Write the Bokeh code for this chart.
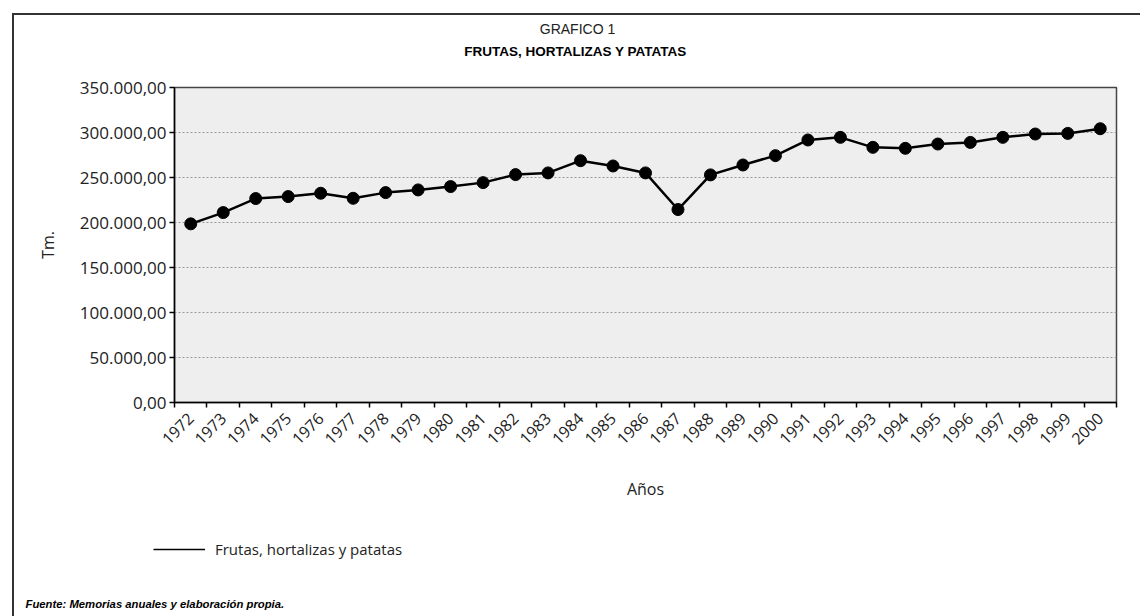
import math
from bokeh.plotting import figure
from bokeh.layouts import column
from bokeh.models import (FixedTicker, Legend, LegendItem, Label,
                          ColumnDataSource)
from bokeh.embed import file_html
from bokeh.resources import INLINE

# ---- data ----
years = [str(y) for y in range(1972, 2001)]
values = [198500, 211000, 226600, 228800, 232500, 226900, 233200, 236200,
          239900, 244300, 253200, 255100, 268700, 262800, 255100, 214400,
          252900, 263900, 274300, 291700, 294600, 283500, 282400, 287200,
          289000, 294600, 298300, 299000, 304200]
y_ticks = [0, 50000, 100000, 150000, 200000, 250000, 300000, 350000]
y_tick_labels = ["0,00", "50.000,00", "100.000,00", "150.000,00", "200.000,00",
                 "250.000,00", "300.000,00", "350.000,00"]
series_name = "Frutas, hortalizas y patatas"
title_1 = "GRAFICO 1"
title_2 = "FRUTAS, HORTALIZAS Y PATATAS"
source_note = "Fuente: Memorias anuales y elaboración propia."

n = len(years)
centers = [i + 0.5 for i in range(n)]
bounds = [float(i) for i in range(n + 1)]
src = ColumnDataSource(dict(x=centers, y=values, year=years))

FONT = "Open Sans"
TFONT = "Liberation Sans"
TXT = "#222222"

W = 1126
H_TOP, H_MAIN, H_BOT = 54, 451, 96


def no_align(fig):
    try:
        fig.frame_align = False
    except Exception:
        pass


def strip(height):
    s = figure(width=W, height=height, x_range=(0, W), y_range=(0, height),
               output_backend="svg", toolbar_location=None, title_location=None,
               x_axis_type=None, y_axis_type=None,
               min_border_left=0, min_border_right=0, min_border_top=0,
               min_border_bottom=0)
    s.outline_line_color = None
    s.background_fill_color = "white"
    s.border_fill_color = "white"
    s.xgrid.visible = False
    s.ygrid.visible = False
    no_align(s)
    return s


# ---- top strip: titles ----
t = strip(H_TOP)
t.add_layout(Label(x=563, y=40.5, text=title_1, text_align="center",
                   text_baseline="middle", text_font=TFONT,
                   text_font_size="14px", text_color=TXT))
t.add_layout(Label(x=561, y=18.5, text=title_2, text_align="center",
                   text_baseline="middle", text_font=TFONT,
                   text_font_style="bold", text_font_size="13.5px",
                   text_color="black"))

# ---- main chart ----
p = figure(width=W, height=H_MAIN, x_range=(0, n), y_range=(0, 350000),
           output_backend="svg", toolbar_location=None, title_location=None,
           min_border_left=160, min_border_right=24, min_border_top=18,
           min_border_bottom=118)
no_align(p)
p.background_fill_color = "#EEEEEE"
p.border_fill_color = "white"
p.outline_line_color = "#444444"
p.outline_line_width = 1.5

p.xaxis.ticker = FixedTicker(ticks=centers, minor_ticks=bounds)
p.xaxis.major_label_overrides = {c: y for c, y in zip(centers, years)}
p.xaxis.major_label_orientation = math.pi / 4
p.xaxis.major_tick_out = 0
p.xaxis.major_tick_in = 0
p.xaxis.minor_tick_out = 5
p.xaxis.minor_tick_in = 0
p.xaxis.minor_tick_line_color = "black"
p.xaxis.minor_tick_line_width = 1.5
p.xaxis.axis_line_color = "black"
p.xaxis.axis_line_width = 1.5
p.xaxis.major_label_standoff = 8
p.xaxis.major_label_text_font = FONT
p.xaxis.major_label_text_font_size = "16px"
p.xaxis.major_label_text_color = TXT
p.xaxis.axis_label = "Años"
p.xaxis.axis_label_text_font = FONT
p.xaxis.axis_label_text_font_style = "normal"
p.xaxis.axis_label_text_font_size = "16px"
p.xaxis.axis_label_text_color = TXT
p.xaxis.axis_label_standoff = 25

p.yaxis.ticker = FixedTicker(ticks=y_ticks)
p.yaxis.major_label_overrides = {tk: s for tk, s in zip(y_ticks, y_tick_labels)}
p.yaxis.major_tick_out = 5
p.yaxis.major_tick_in = 0
p.yaxis.major_tick_line_color = "black"
p.yaxis.major_tick_line_width = 1.5
p.yaxis.minor_tick_line_color = None
p.yaxis.axis_line_color = "black"
p.yaxis.axis_line_width = 1.5
p.yaxis.major_label_standoff = 3
p.yaxis.major_label_text_font = FONT
p.yaxis.major_label_text_font_size = "17px"
p.yaxis.major_label_text_color = TXT
p.yaxis.axis_label = "Tm."
p.yaxis.axis_label_text_font = FONT
p.yaxis.axis_label_text_font_style = "normal"
p.yaxis.axis_label_text_font_size = "16px"
p.yaxis.axis_label_text_color = TXT
p.yaxis.axis_label_standoff = 18

p.xgrid.grid_line_color = None
p.ygrid.grid_line_color = "#999999"
p.ygrid.grid_line_dash = "2 2"
p.ygrid.grid_line_width = 1

line_r = p.line("x", "y", source=src, line_color="black", line_width=2.5)
p.scatter("x", "y", source=src, size=12, fill_color="black", line_color="black")

# ---- bottom strip: legend and source note ----
q = strip(H_BOT)
# legend key line (drawn outside the strip's visible range; only its legend glyph shows)
leg_r = q.line(x=[-20, -10], y=[-20, -20], line_color="black", line_width=1.5)
legend = Legend(items=[LegendItem(label=series_name, renderers=[leg_r])],
                location=(139, 57), orientation="horizontal",
                glyph_width=52, glyph_height=20, label_standoff=10,
                padding=0, margin=0, border_line_color=None,
                background_fill_alpha=0,
                label_text_font=FONT, label_text_font_size="15px",
                label_text_color=TXT)
q.add_layout(legend, "center")
q.add_layout(Label(x=11, y=13, text=source_note, text_align="left",
                   text_baseline="middle", text_font=TFONT,
                   text_font_style="bold italic", text_font_size="11.3px",
                   text_color="black"))

layout = column(t, p, q, spacing=0,
                styles={"margin-left": "12px", "margin-top": "13px",
                        "border-top": "2px solid #333333",
                        "border-left": "2px solid #333333"})

open("out.html", "w").write(file_html(layout, INLINE))
